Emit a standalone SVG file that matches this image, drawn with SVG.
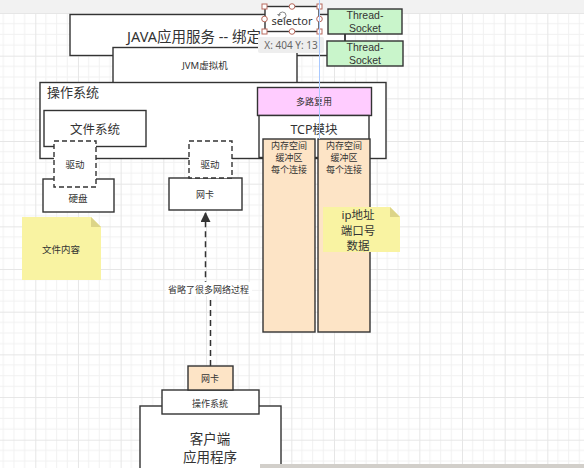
<svg xmlns="http://www.w3.org/2000/svg" width="584" height="468" viewBox="0 0 584 468">
<defs>
<pattern id="grid" width="42.67" height="42.67" patternUnits="userSpaceOnUse" x="35.3" y="13">
<path d="M10.67 0V42.67M21.33 0V42.67M32 0V42.67M0 10.67H42.67M0 21.33H42.67M0 32H42.67" stroke="#f1f1f1" stroke-width="1" fill="none"/>
<path d="M0.5 0V42.67M0 0.5H42.67" stroke="#e6e6e6" stroke-width="1" fill="none"/>
</pattern>
<marker id="arr" viewBox="0 0 10 10" refX="9" refY="5" markerWidth="10" markerHeight="10" markerUnits="userSpaceOnUse" orient="auto">
<path d="M0 0L10 5L0 10Z" fill="#333"/>
</marker>
<style>
.b{fill:#fff;stroke:#333;stroke-width:1.4}
.d{fill:#fff;stroke:#333;stroke-width:1.4;stroke-dasharray:5 3}
.t{font-family:"Noto Sans","Noto Sans CJK SC",sans-serif;fill:#333;text-anchor:middle;dominant-baseline:central}
.l{font-family:"Liberation Sans","Noto Sans CJK SC",sans-serif;fill:#333;text-anchor:middle;dominant-baseline:central}
.peach{fill:#fde4c6;stroke:#333;stroke-width:1.4}
.green{fill:#c9f5cb;stroke:#333;stroke-width:1.4}
.note{fill:#f9f3a2}
.fold{fill:#dcd488}
.h{fill:#fff;stroke:#b86a5e;stroke-width:1}
</style>
</defs>
<rect width="584" height="468" fill="#fff"/>
<rect y="13" width="584" height="455" fill="url(#grid)"/>
<rect width="584" height="13" fill="#f2f2f2"/>

<g id="java-app">
<rect class="b" x="70" y="14.5" width="275" height="41"/>
<text class="t" x="127" y="36" font-size="14.5" style="text-anchor:start">JAVA应用服务 -- 绑定</text>
</g>
<g id="jvm">
<rect class="b" x="113" y="47.5" width="184" height="40"/>
<text class="t" x="205" y="65.5" font-size="9.5">JVM虚拟机</text>
</g>
<g id="os">
<rect class="b" x="40" y="82.5" width="346" height="76"/>
<text class="t" x="47" y="92" font-size="13" style="text-anchor:start">操作系统</text>
</g>
<g id="fs">
<rect class="b" x="44" y="110.5" width="102" height="36"/>
<text class="t" x="95" y="129" font-size="12.5">文件系统</text>
</g>
<g id="mux">
<rect x="257.5" y="87.5" width="114" height="28" fill="#ffccff" stroke="#333" stroke-width="1.4"/>
<text class="t" x="314" y="101.5" font-size="9">多路复用</text>
</g>
<g id="tcp">
<rect class="b" x="259" y="115.5" width="110" height="42"/>
<text class="t" x="314" y="129" font-size="12.5">TCP模块</text>
</g>
<g id="buf1">
<rect class="peach" x="263" y="139" width="52" height="193"/>
<text class="t" x="289" y="145.5" font-size="9">内存空间</text>
<text class="t" x="289" y="157.5" font-size="9">缓冲区</text>
<text class="t" x="289" y="169" font-size="9">每个连接</text>
</g>
<g id="buf2">
<rect class="peach" x="318" y="139" width="52" height="193"/>
<text class="t" x="344" y="145.5" font-size="9">内存空间</text>
<text class="t" x="344" y="157.5" font-size="9">缓冲区</text>
<text class="t" x="344" y="169" font-size="9">每个连接</text>
</g>
<g id="disk">
<rect class="b" x="43" y="179" width="71" height="33"/>
<text class="t" x="78" y="198" font-size="9.5">硬盘</text>
</g>
<g id="driver1">
<rect class="d" x="54" y="141" width="42" height="46"/>
<text class="t" x="75" y="164" font-size="9.5">驱动</text>
</g>
<g id="nic">
<rect class="b" x="169" y="178" width="73" height="32"/>
<text class="t" x="205" y="194" font-size="9">网卡</text>
</g>
<g id="driver2">
<rect class="d" x="189" y="141" width="43" height="37"/>
<text class="t" x="210" y="164" font-size="9.5">驱动</text>
</g>
<g id="note-file">
<path class="note" d="M22 217H91L101 227V280H22Z"/>
<path class="fold" d="M91 217L101 227H91Z"/>
<text class="t" x="61" y="249" font-size="9.5">文件内容</text>
</g>
<g id="note-ip">
<path class="note" d="M323 207H390L400 217V252H323Z"/>
<path class="fold" d="M390 207L400 217H390Z"/>
<text class="t" x="358" y="214.5" font-size="11.5">ip地址</text>
<text class="t" x="358" y="230" font-size="11.5">端口号</text>
<text class="t" x="358" y="245.5" font-size="11.5">数据</text>
</g>
<g id="thread1">
<rect class="green" x="328" y="9" width="74" height="25"/>
<text class="l" x="365" y="15.3" font-size="10.5">Thread-</text>
<text class="l" x="365" y="27.5" font-size="10.5">Socket</text>
</g>
<g id="thread2">
<rect class="green" x="327" y="41" width="76" height="25"/>
<text class="l" x="365" y="47.3" font-size="10.5">Thread-</text>
<text class="l" x="365" y="59.5" font-size="10.5">Socket</text>
</g>
<g id="selector">
<rect class="b" x="265" y="6.5" width="54" height="25"/>
<text class="t" x="292" y="20" font-size="11">selector</text>
<path d="M279 15.5a3.5 3.5 0 1 1 3.5 3.5" fill="none" stroke="#888" stroke-width="1"/>
<path d="M277 14l2 2.5 2-2.5z" fill="#888"/>
<rect class="h" x="262" y="4" width="5" height="5"/>
<rect class="h" x="317" y="4" width="5" height="5"/>
<rect class="h" x="262" y="29" width="5" height="5"/>
<rect class="h" x="317" y="29" width="5" height="5"/>
<circle class="h" cx="292" cy="6.5" r="2.8"/>
<circle class="h" cx="292" cy="31.5" r="2.8"/>
<circle class="h" cx="264.5" cy="19" r="2.8"/>
<circle class="h" cx="319.5" cy="19" r="2.8"/>
</g>
<g id="tooltip">
<rect x="258" y="37" width="66" height="16" rx="2" fill="#eeeeee"/>
<text class="t" x="291" y="45" font-size="10" style="fill:#666">X: 404  Y: 13</text>
</g>

<g id="connectors">
<line x1="345" y1="34" x2="345" y2="41" stroke="#333" stroke-width="1.4"/>
<path d="M210.5 366V294L205.5 284V213" fill="none" stroke="#333" stroke-width="1.5" stroke-dasharray="6 4" marker-end="url(#arr)"/>
<rect x="166" y="282" width="86" height="14" fill="#fff"/>
<text class="t" x="208.5" y="289" font-size="9">省略了很多网络过程</text>
</g>

<g id="client-app">
<rect class="b" x="140" y="406" width="141" height="70"/>
<text class="t" x="210" y="439" font-size="13.5">客户端</text>
<text class="t" x="210" y="456.5" font-size="13.5">应用程序</text>
</g>
<g id="client-os">
<rect class="b" x="162" y="390" width="97" height="24"/>
<text class="t" x="210" y="403" font-size="9">操作系统</text>
</g>
<g id="client-nic">
<rect class="peach" x="188" y="366" width="45" height="24"/>
<text class="t" x="210" y="378" font-size="9">网卡</text>
</g>
<line x1="319.5" y1="0" x2="319.5" y2="139" stroke="#a9c9ff" stroke-width="1"/>
<rect x="260" y="464" width="324" height="4" fill="#d2cfca"/>
</svg>
